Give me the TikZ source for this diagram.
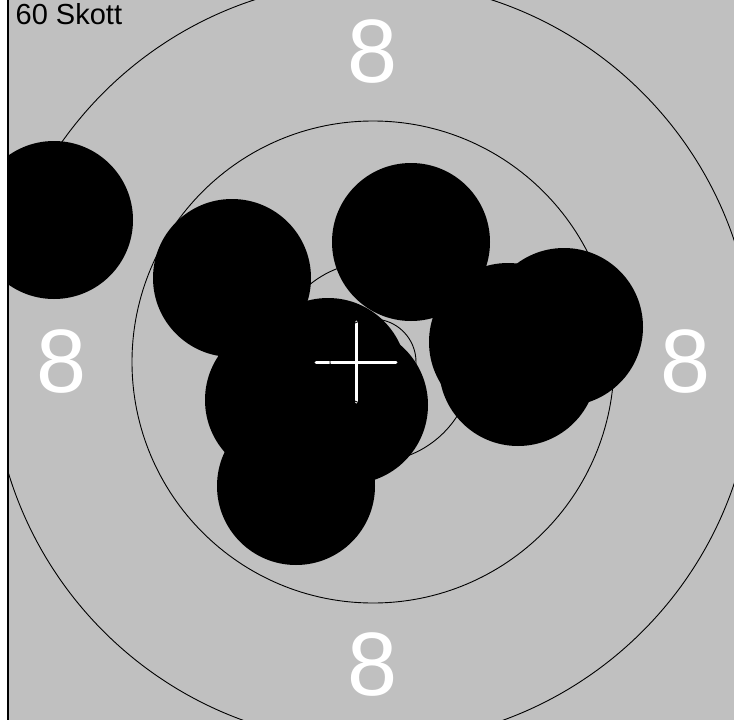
\documentclass[tikz,border=0pt]{standalone}
\usepackage{fontspec}
\setmainfont{Liberation Sans}
\usepackage{xcolor}
\definecolor{TavlaGra}{RGB}{192,192,192}
\tikzset{%
  ring/.style    ={draw=black, line width=0.9pt},
  hal/.style     ={fill=black},
  kors/.style    ={draw=white, line width=3pt, line cap=round},
  siffra/.style  ={text=white, inner sep=0pt, font=\fontsize{90}{90}\selectfont},
  rubrik/.style  ={text=black, inner sep=0pt, anchor=base west,
                   font=\fontsize{29}{29}\selectfont},
  ram/.style     ={draw=black, line width=2pt}
}

\begin{document}
\begin{tikzpicture}[x=1pt,y=-1pt]
  \useasboundingbox (0,0) rectangle (734,720);
  \fill[white] (0,0) rectangle (9,720);
  \fill[TavlaGra] (9,0) rectangle (734,720);
  \coordinate (mitt) at (373,362);
  \coordinate (traff) at (356,362.5);
  \begin{scope}
    \clip (9,0) rectangle (734,720);
    % skotthal
    \foreach \x/\y in {54/220, 232/278, 411/242, 564/327, 508/342,
                       518/367, 328/377, 349/405, 284/400, 296/486}{
      \fill[hal] (\x,\y) circle (79);}
    \draw[kors] (traff) ++(-40,0) -- ++(80,0);
    \draw[kors] (traff) ++(0,-40.5) -- ++(0,80);
    \foreach \r in {43,100,241,381}{\draw[ring] (mitt) circle (\r);}
  \end{scope}
  \node[siffra] (atta-n) at (373,51.5) {8};
  \node[siffra] (atta-s) at (373,665) {8};
  \node[siffra] (atta-v) at (61.5,362) {8};
  \node[siffra] (atta-o) at (686,362) {8};
  \node[rubrik] (antal) at (15.5,24) {60 Skott};
  \draw[ram] (8,0) -- (8,720);
\end{tikzpicture}
\end{document}
